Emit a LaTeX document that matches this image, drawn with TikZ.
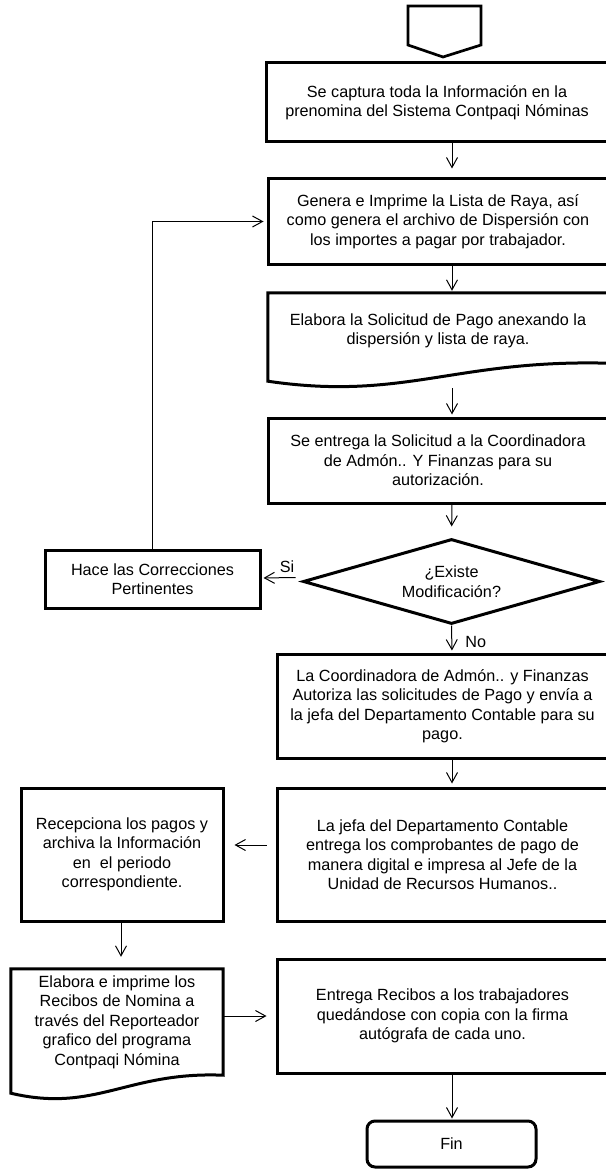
\documentclass[tikz,border=0pt]{standalone}
\usepackage{fontspec}
\setmainfont{Liberation Sans}
\usetikzlibrary{shapes.geometric,arrows.meta,calc}
\begin{document}
\begin{tikzpicture}[x=1pt,y=-1pt,
  txt/.style={font=\fontsize{16.2}{19.5}\selectfont, align=center, inner sep=0pt},
  box/.style={txt, draw, line width=3pt, rectangle},
  docbox/.style={txt, rectangle},
  outline/.style={line width=3pt, line join=miter},
  dec/.style={txt, draw, line width=3pt, shape=diamond, aspect=3.5, minimum width=297pt, minimum height=85pt},
  term/.style={txt, draw, line width=3pt, rectangle, rounded corners=8pt},
  arr/.style={line width=1pt, -{Straight Barb[length=10pt,width=11pt]}}]
\useasboundingbox (0,0) rectangle (605,1169);

% off-page connector
\draw[outline, line width=2.7pt] (408,6) -- (481,6) -- (481,45) -- (443,57) -- (408,45) -- cycle;

\coordinate (ax) at (452,0);
\coordinate (axl) at (121,0);

\node[box, minimum width=342pt, minimum height=79pt] (b1) at (437,102.5)
  {Se captura toda la Información en la\\prenomina del Sistema Contpaqi Nóminas};
\node[box, minimum width=340pt, minimum height=85pt] (b2) at (438,221.5)
  {Genera e Imprime la Lista de Raya, así\\como genera el archivo de Dispersión con\\los importes a pagar por trabajador.};
\node[docbox, minimum width=340pt, minimum height=76pt] (b3) at (438,331)
  {Elabora la Solicitud de Pago anexando la\\dispersión y lista de raya.};
\draw[outline] ($(b3.south west)+(0,12)$) -- (b3.north west) -- (b3.north east)
  -- ($(b3.south east)+(0,-6)$)
  .. controls ($(b3.south west)+(187,-10)$) and ($(b3.south west)+(136,32)$) ..
  ($(b3.south west)+(0,12)$) -- cycle;
\node[box, minimum width=340pt, minimum height=85pt] (b4) at (438,460.5)
  {Se entrega la Solicitud a la Coordinadora\\de Admón.. Y Finanzas para su\\autorización.};
\node[dec] (d) at (451.5,581.5) {¿Existe\\Modificación?};
\node[box, minimum width=215pt, minimum height=58pt] (hace) at (152.5,579)
  {Hace las Correcciones\\Pertinentes};
\node[box, minimum width=331pt, minimum height=104pt] (b5) at (442.5,706)
  {La Coordinadora de Admón.. y Finanzas\\Autoriza las solicitudes de Pago y envía a\\la jefa del Departamento Contable para su\\pago.};
\node[box, minimum width=331pt, minimum height=133pt] (b6) at (442.5,854.5)
  {La jefa del Departamento Contable\\entrega los comprobantes de pago de\\manera digital e impresa al Jefe de la\\Unidad de Recursos Humanos..};
\node[box, minimum width=202pt, minimum height=133pt] (b7) at (122,854.5)
  {Recepciona los pagos y\\archiva la Información\\en\ \ el periodo\\correspondiente.};
\node[docbox, minimum width=212pt, minimum height=106pt] (b8) at (117,1022)
  {Elabora e imprime los\\Recibos de Nomina a\\través del Reporteador\\grafico del programa\\Contpaqi Nómina};
\draw[outline] ($(b8.south west)+(0,18)$) -- (b8.north west) -- (b8.north east)
  -- (b8.south east)
  .. controls ($(b8.south west)+(116.6,-4)$) and ($(b8.south west)+(84.8,38)$) ..
  ($(b8.south west)+(0,18)$) -- cycle;
\node[box, minimum width=331pt, minimum height=114pt] (b9) at (442.5,1016)
  {Entrega Recibos a los trabajadores\\quedándose con copia con la firma\\autógrafa de cada uno.};
\node[term, minimum width=169pt, minimum height=46pt] (fin) at (451.5,1144) {Fin};

% connectors
\draw[arr, shorten >=9pt] (b1.south -| ax) -- (b2.north -| ax);
\draw[arr, shorten >=2pt] (b2.south -| ax) -- (b3.north -| ax);
\draw[arr, shorten >=2pt] ($(b3.south -| ax)+(0,19)$) -- (b4.north -| ax);
\draw[arr, shorten >=11pt] (b4.south -| ax) -- (d.north);
\draw[arr, shorten >=2pt] ($(d.west)+(-6,-4)$) -- (hace.east |- 0,578)
  node[pos=0.25, above=4pt, txt] (si) {Si};
\draw[arr, shorten >=2pt] (d.south) -- (b5.north -| ax)
  node[pos=0.62, right=13pt, txt] (no) {No};
\draw[arr, shorten >=3pt] (hace.north) |- (b2.west);
\draw[arr, shorten >=3pt] (b5.south -| ax) -- (b6.north -| ax);
\draw[arr, shorten >=10pt] ($(b6.west)+(-9,-9.5)$) -- ($(b7.east |- b6.west)+(0,-9.5)$);
\draw[arr, shorten >=12pt] (b7.south -| axl) -- (b8.north -| axl);
\draw[arr, shorten >=9pt] (b9.west -| b8.east) -- (b9.west);
\draw[arr, shorten >=1pt] (b9.south -| ax) -- (fin.north -| ax);
\end{tikzpicture}
\end{document}
